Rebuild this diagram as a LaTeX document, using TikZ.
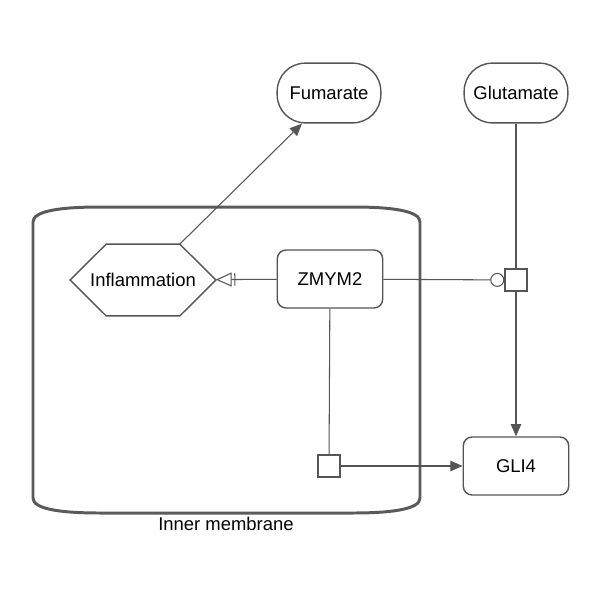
\documentclass[tikz,border=0pt]{standalone}
\usepackage{fontspec}
\setmainfont{Liberation Sans}
\usetikzlibrary{arrows.meta,positioning}
\definecolor{EdgeGray}{HTML}{555555}
\definecolor{WallGray}{HTML}{5A5A5A}

\begin{document}
\begin{tikzpicture}[x=0.02cm, y=-0.02cm,
    every node/.style={font=\fontsize{10.5}{12}\selectfont},
    entity/.style={draw=EdgeGray, line width=0.8pt, fill=white, rounded corners=5pt, minimum width=60pt, minimum height=33pt},
    chem/.style={draw=EdgeGray, line width=0.8pt, fill=white, rounded corners=16pt, minimum width=59pt, minimum height=34pt},
    procbox/.style={draw=EdgeGray, line width=0.8pt, fill=white, minimum size=12.5pt, inner sep=0pt},
    link/.style={draw=EdgeGray, line width=0.6pt},
    stim/.style={link, -{Triangle[length=7pt,width=6pt]}}]
    \useasboundingbox (0,0) rectangle (600,600);

    % compartment
    \draw[WallGray, line width=1.7pt] (33,222) .. controls (33,211) and (60,207) .. (100,207) -- (353,207)
        .. controls (393,207) and (420,211) .. (420,222) -- (420,498)
        .. controls (420,509) and (393,513) .. (353,513) -- (100,513)
        .. controls (60,513) and (33,509) .. (33,498) -- cycle;
    \node (wall) at (226,524) {Inner membrane};

    \node[chem] (fum) at (329,93) {Fumarate};
    \node[chem] (glu) at (516,93) {Glutamate};
    % hexagon drawn round a plain node
    \node[minimum width=82.5pt, minimum height=40.5pt, inner sep=0pt] (infl) at (143,280) {Inflammation};
    \draw[EdgeGray, line width=0.8pt] (infl.west) -- ([xshift=20.5pt]infl.north west) coordinate (infltl)
        -- ([xshift=-20.5pt]infl.north east) coordinate (infltr) -- (infl.east)
        -- ([xshift=-20.5pt]infl.south east) -- ([xshift=20.5pt]infl.south west) -- cycle;
    \node[entity] (zmym) at (330,279) {ZMYM2};
    \node[entity] (gli) at (516,466) {GLI4};
    \node[procbox] (p1) at (516,280) {};
    \node[procbox] (p2) at (329,466) {};

    \draw[stim] (infltr) -- (fum.south west -| 302,0);
    \draw[link, -{Bar[width=7pt,sep=1.5pt]Triangle[open,length=9pt,width=8pt]}] (zmym) -- (infl);
    \draw[link, -{Circle[open,length=8pt]}] (zmym) -- (p1);
    \draw[link] (glu) -- (p1);
    \draw[stim] (p1) -- (gli);
    \draw[link] (zmym) -- (p2);
    \draw[stim] (p2) -- (gli);
\end{tikzpicture}
\end{document}
